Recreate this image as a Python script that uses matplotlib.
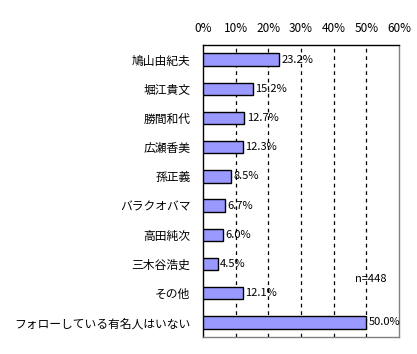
import matplotlib
matplotlib.use("Agg")
import matplotlib.pyplot as plt

plt.rcParams['font.family'] = ['Noto Sans CJK JP', 'DejaVu Sans']

# data
names = ["鳩山由紀夫", "堀江貴文", "勝間和代", "広瀬香美", "孫正義",
         "バラクオバマ", "高田純次", "三木谷浩史", "その他", "フォローしている有名人はいない"]
values = [23.2, 15.2, 12.7, 12.3, 8.5, 6.7, 6.0, 4.5, 12.1, 50.0]
ticks = [0, 10, 20, 30, 40, 50, 60]
tick_labels = [f"{t}%" for t in ticks]
note = "n=448"

fig = plt.figure(figsize=(4.17, 3.54), dpi=100)
ax = fig.add_axes([203 / 417, 1 - 337 / 354, 196 / 417, 292 / 354])

y = list(range(len(names)))
ax.barh(y, values, height=0.42, color="#9999FF", edgecolor="black", linewidth=1, zorder=3)

for yi, v in zip(y, values):
    ax.text(v + 0.7, yi, f"{v:.1f}%", va="center", ha="left", fontsize=8, zorder=4)

ax.set_xlim(0, 60)
ax.set_ylim(len(names) - 0.5, -0.5)
ax.set_xticks(ticks)
ax.set_xticklabels(tick_labels, fontsize=8.5)
ax.xaxis.tick_top()
ax.tick_params(axis="x", length=0, pad=7)
ax.set_yticks(y)
ax.set_yticklabels(names, fontsize=8.5)
ax.tick_params(axis="y", length=0, pad=9)

for t in ticks[1:-1]:
    ax.axvline(t, color="black", linestyle=(0, (3, 3)), linewidth=0.9, zorder=1)

ax.spines["left"].set_color("black")
ax.spines["top"].set_color("black")
ax.spines["right"].set_color("#808080")
ax.spines["bottom"].set_color("#808080")
for s in ax.spines.values():
    s.set_linewidth(1)

ax.text(46.5, 7.5, note, fontsize=8, va="center", ha="left", zorder=4)

fig.savefig("out.png", dpi=100)
